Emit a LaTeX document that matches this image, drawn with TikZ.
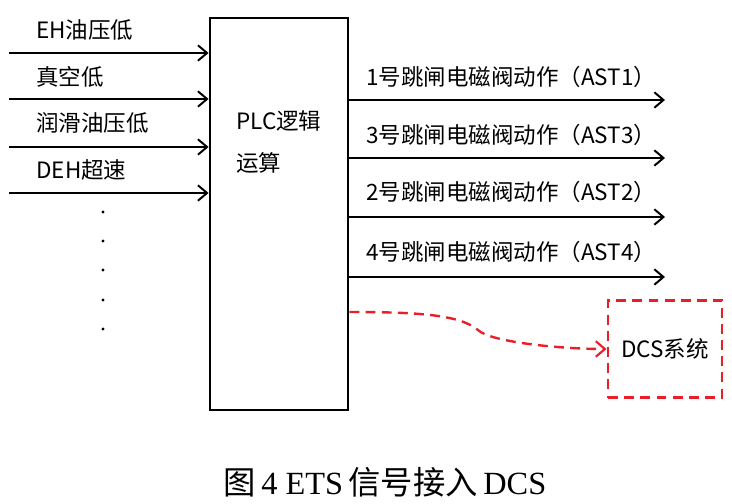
\documentclass[tikz,border=0pt]{standalone}
\usepackage{fontspec}
\setmainfont{Liberation Serif}
\newfontfamily\cjk{Noto Sans CJK SC}
\usetikzlibrary{arrows.meta}
\definecolor{dashred}{RGB}{235,30,40}
\tikzset{
    sig/.style={line width=1.5pt, -{Straight Barb[length=6.5pt,width=11pt,line width=1.4pt]}},
    lbl/.style={anchor=west, inner sep=0pt, font=\cjk\fontsize{16}{19}\selectfont},
    redline/.style={draw=dashred, line width=1.7pt, dash pattern=on 7pt off 4.5pt},
}
\begin{document}
\begin{tikzpicture}[x=0.025cm, y=-0.025cm]
    \useasboundingbox (0,0) rectangle (732,504);
    % PLC box
    \node[draw, line width=2pt, minimum width=3.45cm, minimum height=9.8cm] (plc) at (279,214) {};
    \node[anchor=north west, inner sep=0pt, align=left, font=\cjk\fontsize{16}{30}\selectfont] (plctext) at (236,110) {PLC逻辑\\运算};
    % inputs
    \coordinate (in1) at (9,53);
    \coordinate (in2) at (9,99);
    \coordinate (in3) at (9,147);
    \coordinate (in4) at (9,193);
    \draw[sig] (in1) -- (in1 -| plc.west);
    \draw[sig] (in2) -- (in2 -| plc.west);
    \draw[sig] (in3) -- (in3 -| plc.west);
    \draw[sig] (in4) -- (in4 -| plc.west);
    \node[lbl] (lin1) at (36,30) {EH油压低};
    \node[lbl] (lin2) at (36,77) {真空低};
    \node[lbl] (lin3) at (36,123) {润滑油压低};
    \node[lbl] (lin4) at (36,170) {DEH超速};
    % dots
    \fill (103,212) circle (1.2pt);
    \fill (103,241) circle (1.2pt);
    \fill (103,270) circle (1.2pt);
    \fill (103,300) circle (1.2pt);
    \fill (103,329) circle (1.2pt);
    % outputs
    \coordinate (out1) at (665,100);
    \coordinate (out2) at (665,158);
    \coordinate (out3) at (665,217);
    \coordinate (out4) at (665,277);
    \draw[sig] (out1 -| plc.east) -- (out1);
    \draw[sig] (out2 -| plc.east) -- (out2);
    \draw[sig] (out3 -| plc.east) -- (out3);
    \draw[sig] (out4 -| plc.east) -- (out4);
    \node[lbl] (lout1) at (366,77) {1号跳闸电磁阀动作（AST1）};
    \node[lbl] (lout2) at (366,135) {3号跳闸电磁阀动作（AST3）};
    \node[lbl] (lout3) at (366,192) {2号跳闸电磁阀动作（AST2）};
    \node[lbl] (lout4) at (366,252) {4号跳闸电磁阀动作（AST4）};
    % DCS
    \node[redline, line width=2pt, minimum width=2.85cm, minimum height=2.43cm, font=\cjk\fontsize{16}{19}\selectfont] (dcs) at (665,349) {DCS系统};
    \coordinate (dstart) at (plc.east |- 0,312);
    \draw[redline, -{Straight Barb[length=6.5pt,width=11pt,line width=1.5pt]}]
        (dstart) .. controls (420,312) and (460,315) .. (478,330)
        .. controls (490,342) and (560,349) .. (dcs.west);
    % caption
    \node[inner sep=0pt, font=\fontsize{23}{26}\selectfont] (cap) at (385,482) {{\cjk 图}\,4 ETS\,{\cjk 信号接入}\,DCS};
\end{tikzpicture}
\end{document}
